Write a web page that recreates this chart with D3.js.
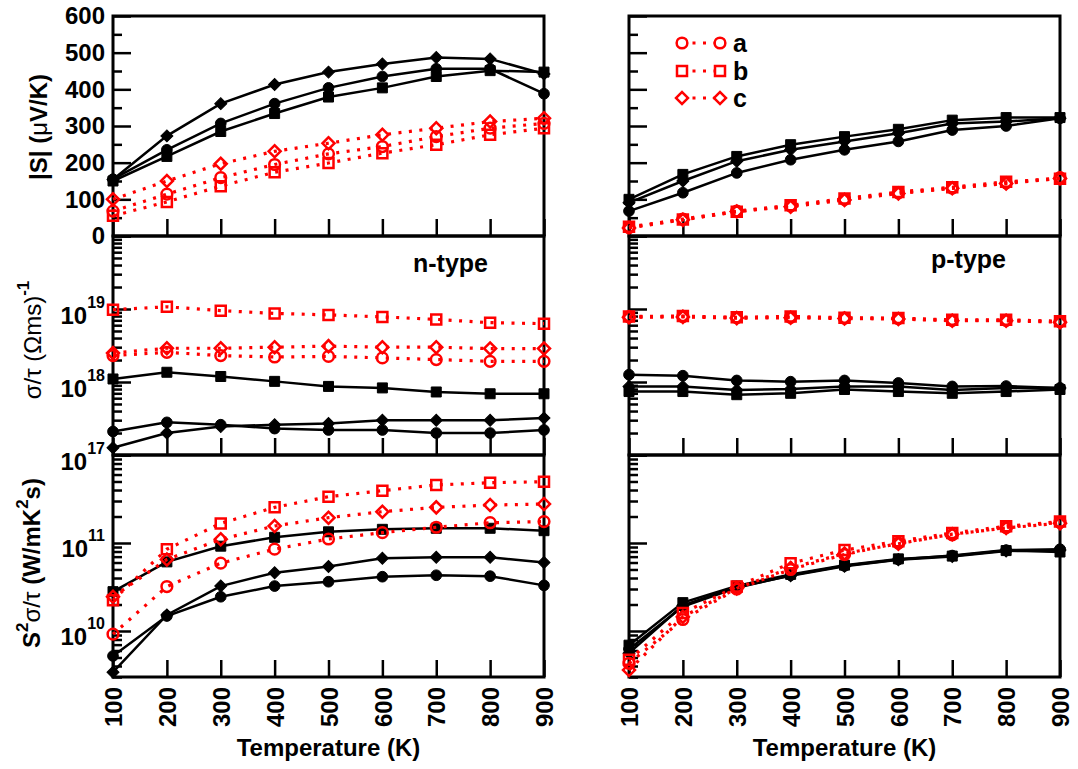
<!DOCTYPE html>
<html><head><meta charset="utf-8">
<script src="https://cdn.jsdelivr.net/npm/d3@7/dist/d3.min.js"></script>
<style>
body{margin:0;background:#fff}
svg{display:block}
text{font-family:"Liberation Sans",Arial,Helvetica,sans-serif;font-weight:bold}
</style>
</head><body>
<svg id="chart" width="1078" height="769"></svg>
<script>
// ---------------- data ----------------
const temperatures = [100, 200, 300, 400, 500, 600, 700, 800, 900];
const seriesNames = ["a", "b", "c"];
const seebeckTicks = [0, 100, 200, 300, 400, 500, 600];
const sigmaTicks = [1e17, 1e18, 1e19];
const pfTicks = [1e10, 1e11];

// n-type |S| (uV/K)
const nS_black_a = [155, 235, 307, 361, 404, 435, 456, 456, 388];
const nS_black_b = [150, 217, 285, 334, 379, 404, 435, 451, 447];
const nS_black_c = [154, 273, 361, 413, 447, 469, 487, 483, 442];
const nS_red_a = [68, 114, 159, 195, 224, 244, 271, 294, 307];
const nS_red_b = [55, 93, 136, 174, 199, 226, 249, 276, 294];
const nS_red_c = [100, 150, 197, 231, 253, 276, 294, 312, 321];
// p-type |S|
const pS_black_a = [68, 118, 172, 208, 235, 258, 289, 300, 321];
const pS_black_b = [100, 168, 217, 249, 271, 291, 316, 323, 323];
const pS_black_c = [91, 150, 204, 235, 258, 280, 307, 312, 321];
const pS_red_a = [23, 46, 68, 82, 100, 118, 131, 145, 159];
const pS_red_b = [25, 45, 66, 84, 102, 120, 133, 148, 156];
const pS_red_c = [22, 44, 67, 80, 98, 116, 130, 143, 157];
// n-type sigma/tau
const nSig_black_a = [2.1e17, 2.8e17, 2.6e17, 2.3e17, 2.2e17, 2.2e17, 2.0e17, 2.0e17, 2.2e17];
const nSig_black_b = [1.1e18, 1.36e18, 1.19e18, 1.02e18, 8.7e17, 8.3e17, 7.3e17, 6.9e17, 6.9e17];
const nSig_black_c = [1.26e17, 2.0e17, 2.45e17, 2.6e17, 2.7e17, 3.0e17, 3.0e17, 3.0e17, 3.2e17];
const nSig_red_a = [2.3e18, 2.55e18, 2.3e18, 2.2e18, 2.24e18, 2.14e18, 2.03e18, 1.92e18, 1.92e18];
const nSig_red_b = [9.8e18, 1.07e19, 9.5e18, 8.7e18, 8.3e18, 7.8e18, 7.2e18, 6.5e18, 6.3e18];
const nSig_red_c = [2.5e18, 2.9e18, 2.9e18, 3.0e18, 3.1e18, 3.0e18, 3.0e18, 2.87e18, 2.87e18];
// p-type sigma/tau
const pSig_black_a = [1.26e18, 1.22e18, 1.05e18, 1.01e18, 1.05e18, 9.7e17, 8.7e17, 8.8e17, 8.3e17];
const pSig_black_b = [7.4e17, 7.4e17, 6.7e17, 7.0e17, 7.9e17, 7.4e17, 7.0e17, 7.4e17, 7.9e17];
const pSig_black_c = [8.7e17, 8.7e17, 7.8e17, 8.0e17, 8.7e17, 8.7e17, 7.8e17, 8.3e17, 8.3e17];
const pSig_red_a = [7.8e18, 7.9e18, 7.6e18, 7.7e18, 7.5e18, 7.4e18, 7.0e18, 7.0e18, 6.7e18];
const pSig_red_b = [7.9e18, 8.0e18, 7.7e18, 7.9e18, 7.6e18, 7.5e18, 7.1e18, 7.1e18, 6.8e18];
const pSig_red_c = [7.7e18, 7.8e18, 7.5e18, 7.6e18, 7.4e18, 7.3e18, 6.9e18, 6.9e18, 6.6e18];
// n-type S^2 sigma/tau
const nPF_black_a = [5.2e9, 1.48e10, 2.45e10, 3.24e10, 3.63e10, 4.14e10, 4.3e10, 4.2e10, 3.3e10];
const nPF_black_b = [2.8e10, 6.1e10, 9.2e10, 1.16e11, 1.34e11, 1.43e11, 1.47e11, 1.47e11, 1.38e11];
const nPF_black_c = [3.4e9, 1.52e10, 3.24e10, 4.6e10, 5.4e10, 6.7e10, 6.9e10, 6.9e10, 6.0e10];
const nPF_red_a = [9.2e9, 3.2e10, 5.9e10, 8.5e10, 1.11e11, 1.31e11, 1.51e11, 1.7e11, 1.75e11];
const nPF_red_b = [2.24e10, 8.5e10, 1.67e11, 2.54e11, 3.36e11, 3.93e11, 4.57e11, 4.84e11, 4.98e11];
const nPF_red_c = [2.45e10, 6.5e10, 1.1e11, 1.56e11, 1.94e11, 2.27e11, 2.54e11, 2.7e11, 2.77e11];
// p-type S^2 sigma/tau
const pPF_black_a = [6.2e9, 1.9e10, 3.1e10, 4.3e10, 5.5e10, 6.5e10, 7.2e10, 8.3e10, 8.5e10];
const pPF_black_b = [6.9e9, 2.1e10, 3.25e10, 4.4e10, 5.6e10, 6.6e10, 7.1e10, 8.2e10, 7.9e10];
const pPF_black_c = [5.6e9, 1.95e10, 3.15e10, 4.25e10, 5.45e10, 6.45e10, 7.0e10, 8.1e10, 8.3e10];
const pPF_red_a = [4.3e9, 1.35e10, 3.0e10, 5.0e10, 7.4e10, 1.0e11, 1.24e11, 1.5e11, 1.72e11];
const pPF_red_b = [4.7e9, 1.6e10, 3.2e10, 5.9e10, 8.3e10, 1.05e11, 1.3e11, 1.55e11, 1.75e11];
const pPF_red_c = [3.6e9, 1.45e10, 3.05e10, 5.2e10, 7.6e10, 9.8e10, 1.26e11, 1.48e11, 1.68e11];

// ---------------- layout ----------------
const svg = d3.select("#chart");
const FONT = '"Liberation Sans",Arial,Helvetica,sans-serif';
const colX = [[113, 544], [629, 1060]];
const rowY = [[16, 236], [236, 455], [455, 677]];
const RED = "#ff0000";

const rows = [
  {kind: "lin", domain: [0, 600], ticks: seebeckTicks,
   n: {black: [nS_black_a, nS_black_b, nS_black_c], red: [nS_red_a, nS_red_b, nS_red_c]},
   p: {black: [pS_black_a, pS_black_b, pS_black_c], red: [pS_red_a, pS_red_b, pS_red_c]}},
  {kind: "log", domain: [1e17, 1e20], ticks: sigmaTicks,
   n: {black: [nSig_black_a, nSig_black_b, nSig_black_c], red: [nSig_red_a, nSig_red_b, nSig_red_c]},
   p: {black: [pSig_black_a, pSig_black_b, pSig_black_c], red: [pSig_red_a, pSig_red_b, pSig_red_c]}},
  {kind: "log", domain: [3e9, 1e12], ticks: pfTicks,
   n: {black: [nPF_black_a, nPF_black_b, nPF_black_c], red: [nPF_red_a, nPF_red_b, nPF_red_c]},
   p: {black: [pPF_black_a, pPF_black_b, pPF_black_c], red: [pPF_red_a, pPF_red_b, pPF_red_c]}}
];

function markerPath(i) {
  if (i === 0) return d3.symbol().type(d3.symbolCircle).size(90)();
  if (i === 1) return d3.symbol().type(d3.symbolSquare).size(100)();
  return d3.symbol().type(d3.symbolSquare).size(72)();
}
function markerRot(i) { return i === 2 ? " rotate(45)" : ""; }

function styleAxis(g) {
  g.attr("font-family", FONT).attr("font-size", 24).attr("font-weight", "bold");
  g.select(".domain").remove();
  g.selectAll("line").attr("stroke", "#000").attr("stroke-width", 2.5);
}

rows.forEach((row, ri) => {
  ["n", "p"].forEach((side, ci) => {
    const x = d3.scaleLinear().domain([100, 900]).range(colX[ci]);
    const y = (row.kind === "lin" ? d3.scaleLinear() : d3.scaleLog())
      .domain(row.domain).range([rowY[ri][1], rowY[ri][0]]);
    const g = svg.append("g");
    const x0 = colX[ci][0];

    // minor y ticks
    let minor;
    if (row.kind === "lin") minor = d3.range(50, 600, 100);
    else minor = y.ticks().filter(v => {
      const m = Math.round(v / Math.pow(10, Math.floor(Math.log10(v) + 1e-9)));
      return m !== 1;
    });
    g.append("g").attr("transform", `translate(${x0},0)`)
      .call(d3.axisLeft(y).tickValues(minor).tickSize(-9).tickFormat(""))
      .call(styleAxis);

    // major y ticks
    let major = row.kind === "lin" ? row.ticks : d3.range(Math.ceil(Math.log10(row.domain[0])), Math.floor(Math.log10(row.domain[1])) + 1).map(e => Math.pow(10, e));
    const ax = g.append("g").attr("transform", `translate(${x0},0)`)
      .call(d3.axisLeft(y).tickValues(major).tickSize(-18).tickPadding(8)
        .tickFormat(ci === 0 && row.kind === "lin" ? d3.format("d") : ""))
      .call(styleAxis);
    if (ci === 0 && row.kind === "log") {
      ax.selectAll(".tick").each(function(d) {
        if (!row.ticks.includes(d)) return;
        const t = d3.select(this).select("text").attr("dy", 14).text(null);
        t.append("tspan").text("10");
        t.append("tspan").attr("dy", -16).attr("font-size", 16).text(Math.round(Math.log10(d)));
      });
    }

    // x ticks (inside, bottom)
    const xa = g.append("g").attr("transform", `translate(0,${rowY[ri][1]})`)
      .call(d3.axisBottom(x).tickValues(temperatures).tickSize(-17)
        .tickFormat(ri === 2 ? d3.format("d") : ""))
      .call(styleAxis);
    if (ri === 2) {
      xa.selectAll("text").attr("transform", "rotate(-90)")
        .attr("x", -10).attr("y", 0).attr("dy", "0.36em").attr("text-anchor", "end");
    }

    // frame
    g.append("rect").attr("x", colX[ci][0]).attr("y", rowY[ri][0])
      .attr("width", colX[ci][1] - colX[ci][0]).attr("height", rowY[ri][1] - rowY[ri][0])
      .attr("fill", "none").attr("stroke", "#000").attr("stroke-width", 3);

    const line = d3.line().x((d, i) => x(temperatures[i])).y(d => y(d));
    const data = row[side];
    // black (solid, filled)
    data.black.forEach((vals, si) => {
      g.append("path").attr("d", line(vals)).attr("fill", "none")
        .attr("stroke", "#000").attr("stroke-width", 2.5);
    });
    data.black.forEach((vals, si) => {
      g.selectAll(null).data(vals).enter().append("path")
        .attr("d", markerPath(si))
        .attr("transform", (d, i) => `translate(${x(temperatures[i])},${y(d)})${markerRot(si)}`)
        .attr("fill", "#000").attr("stroke", "#000").attr("stroke-width", 1);
    });
    // red (dotted, open)
    data.red.forEach((vals, si) => {
      g.append("path").attr("d", line(vals)).attr("fill", "none")
        .attr("stroke", RED).attr("stroke-width", 3.2).attr("stroke-dasharray", "3,7.5");
    });
    data.red.forEach((vals, si) => {
      g.selectAll(null).data(vals).enter().append("path")
        .attr("d", markerPath(si))
        .attr("transform", (d, i) => `translate(${x(temperatures[i])},${y(d)})${markerRot(si)}`)
        .attr("fill", "none").attr("stroke", RED).attr("stroke-width", 2.5);
    });
  });
});

// legend
const legY = [43, 71, 98];
seriesNames.forEach((name, si) => {
  const lg = svg.append("g");
  lg.append("line").attr("x1", 682).attr("x2", 720).attr("y1", legY[si]).attr("y2", legY[si])
    .attr("stroke", RED).attr("stroke-width", 3.2).attr("stroke-dasharray", "3,7.5");
  [682, 720].forEach(px => {
    lg.append("path").attr("d", markerPath(si))
      .attr("transform", `translate(${px},${legY[si]})${markerRot(si)}`)
      .attr("fill", "#fff").attr("stroke", RED).attr("stroke-width", 2.5);
  });
  lg.append("text").attr("x", 733).attr("y", legY[si] + 9).attr("font-size", 25).text(name);
});

// panel annotations
svg.append("text").attr("x", 488).attr("y", 272).attr("text-anchor", "end").attr("font-size", 25).text("n-type");
svg.append("text").attr("x", 1006).attr("y", 268).attr("text-anchor", "end").attr("font-size", 25).text("p-type");

// x-axis titles
[0, 1].forEach(ci => {
  svg.append("text").attr("x", (colX[ci][0] + colX[ci][1]) / 2).attr("y", 756)
    .attr("text-anchor", "middle").attr("font-size", 24).text("Temperature (K)");
});

// y-axis titles
const t1 = svg.append("text").attr("transform", "translate(47,127) rotate(-90)")
  .attr("text-anchor", "middle").attr("font-size", 24);
t1.append("tspan").text("|S| (");
t1.append("tspan").attr("font-weight", "normal").text("\u03bc");
t1.append("tspan").text("V/K)");

const t2 = svg.append("text").attr("transform", "translate(41,340) rotate(-90)")
  .attr("text-anchor", "middle").attr("font-size", 24);
t2.append("tspan").attr("font-weight", "normal").text("\u03c3/\u03c4 (\u03a9ms)");
t2.append("tspan").attr("dy", -12).attr("font-size", 17).text("-1");

const t3 = svg.append("text").attr("transform", "translate(40,563) rotate(-90)")
  .attr("text-anchor", "middle").attr("font-size", 24);
t3.append("tspan").text("S");
t3.append("tspan").attr("dy", -12).attr("font-size", 17).text("2");
t3.append("tspan").attr("dy", 12).attr("font-weight", "normal").text("\u03c3/\u03c4");
t3.append("tspan").text(" (W/mK");
t3.append("tspan").attr("dy", -12).attr("font-size", 17).text("2");
t3.append("tspan").attr("dy", 12).text("s)");
</script>
</body></html>
